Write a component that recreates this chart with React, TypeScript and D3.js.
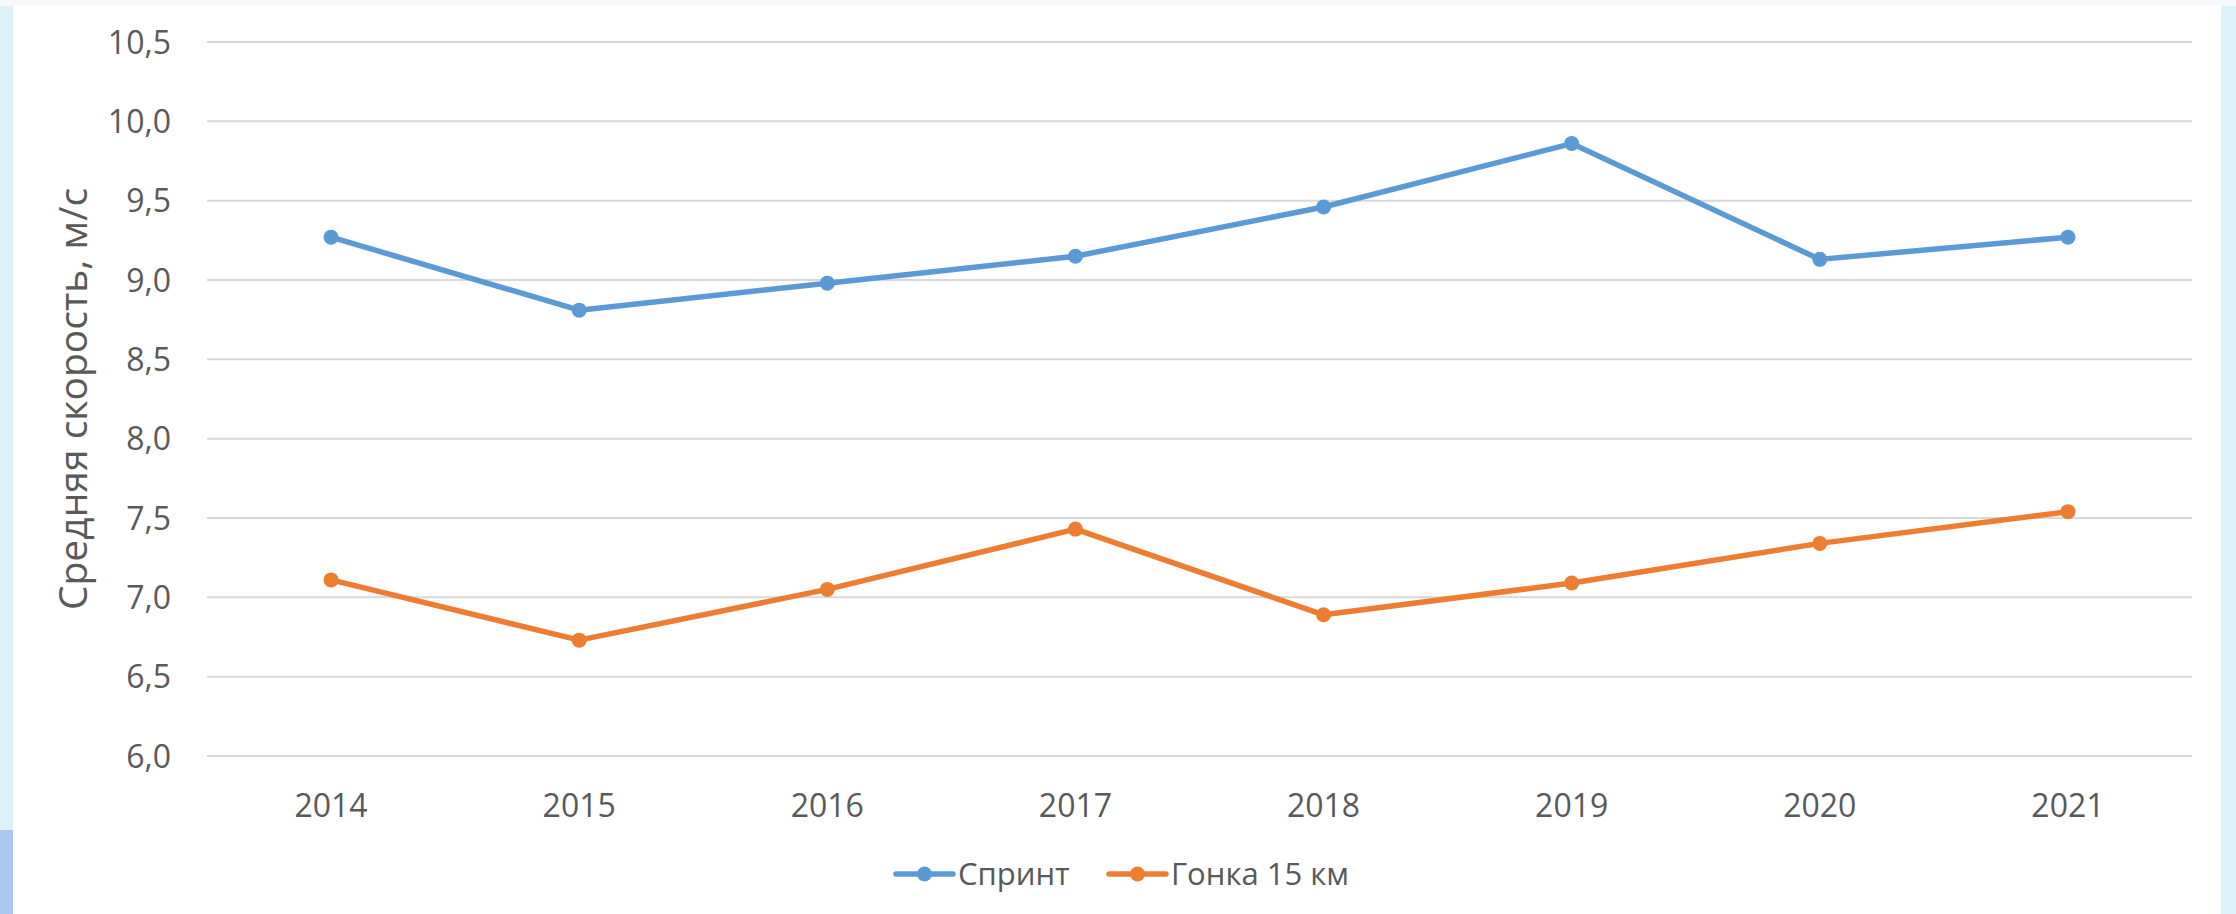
import React from "react";
import * as d3 from "d3";

const years = ["2014", "2015", "2016", "2017", "2018", "2019", "2020", "2021"];
const sprint = [9.27, 8.81, 8.98, 9.15, 9.46, 9.86, 9.13, 9.27];
const race15 = [7.11, 6.73, 7.05, 7.43, 6.89, 7.09, 7.34, 7.54];
const yTicks = [6.0, 6.5, 7.0, 7.5, 8.0, 8.5, 9.0, 9.5, 10.0, 10.5];
const seriesNames = ["Спринт", "Гонка 15 км"];
const seriesColors = ["#5B9BD5", "#ED7D31"];
const yTitle = "Средняя скорость, м/с";

const W = 2236;
const H = 914;
const plot = { left: 207, right: 2192, top: 42, bottom: 756 };
const FONT = "'Open Sans', sans-serif";
const TXT = "#595959";

export default function App() {
  const x = d3.scaleBand<string>().domain(years).range([plot.left, plot.right]);
  const y = d3.scaleLinear().domain([6, 10.5]).range([plot.bottom, plot.top]);
  const cx = (yr: string) => (x(yr) as number) + x.bandwidth() / 2;
  const line = d3
    .line<number>()
    .x((_, i) => cx(years[i]))
    .y((v) => y(v));
  const fmt = (v: number) => v.toFixed(1).replace(".", ",");
  const series = [sprint, race15];

  const legendItems = [
    { lx: 896, tx: 958 },
    { lx: 1109, tx: 1171 },
  ];

  return (
    <svg
      width={W}
      height={H}
      style={{ position: "absolute", left: 0, top: 0, display: "block" }}
      fontFamily={FONT}
    >
      <rect x={0} y={0} width={W} height={H} fill="#DDF1FB" />
      <rect x={0} y={0} width={W} height={6} fill="#F4F8FA" />
      <rect x={0} y={830} width={13} height={84} fill="#A9C8F0" />
      <rect x={13} y={6} width={2208} height={H - 6} fill="#FFFFFF" />

      {yTicks.map((t) => (
        <g key={t}>
          <line
            x1={plot.left}
            x2={plot.right}
            y1={y(t)}
            y2={y(t)}
            stroke="#D9D9D9"
            strokeWidth={2}
          />
          <text
            x={171}
            y={y(t)}
            dy="0.36em"
            textAnchor="end"
            fontSize={32}
            fill={TXT}
          >
            {fmt(t)}
          </text>
        </g>
      ))}

      {years.map((yr) => (
        <text
          key={yr}
          x={cx(yr)}
          y={817}
          textAnchor="middle"
          fontSize={32}
          fill={TXT}
        >
          {yr}
        </text>
      ))}

      <text
        transform={`translate(87, ${(plot.top + plot.bottom) / 2}) rotate(-90)`}
        textAnchor="middle"
        fontSize={39}
        fill={TXT}
      >
        {yTitle}
      </text>

      {series.map((s, si) => (
        <g key={si}>
          <path
            d={line(s) || ""}
            fill="none"
            stroke={seriesColors[si]}
            strokeWidth={5.5}
            strokeLinejoin="round"
            strokeLinecap="round"
          />
          {s.map((v, i) => (
            <circle
              key={i}
              cx={cx(years[i])}
              cy={y(v)}
              r={7.5}
              fill={seriesColors[si]}
            />
          ))}
        </g>
      ))}

      {legendItems.map((it, si) => (
        <g key={si}>
          <line
            x1={it.lx}
            x2={it.lx + 57}
            y1={874}
            y2={874}
            stroke={seriesColors[si]}
            strokeWidth={5.5}
            strokeLinecap="round"
          />
          <circle cx={it.lx + 28.5} cy={874} r={7.5} fill={seriesColors[si]} />
          <text x={it.tx} y={874} dy="0.36em" fontSize={31} fill={TXT}>
            {seriesNames[si]}
          </text>
        </g>
      ))}
    </svg>
  );
}
